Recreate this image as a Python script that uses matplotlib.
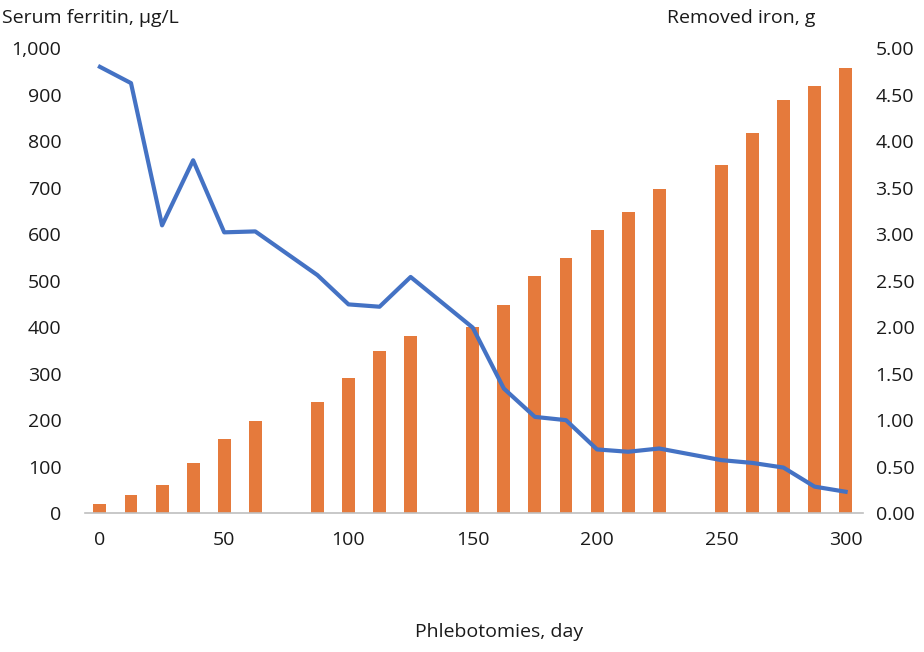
import matplotlib.pyplot as plt
from matplotlib.ticker import FuncFormatter

plt.rcParams['font.family'] = ['Open Sans', 'DejaVu Sans']

# dias de flebotomia (barras = hierro removido, linea = ferritina)
dias_barras = [0, 12.5, 25, 37.5, 50, 62.5, 87.5, 100, 112.5, 125, 150, 162.5,
               175, 187.5, 200, 212.5, 225, 250, 262.5, 275, 287.5, 300]
hierro_g = [0.10, 0.19, 0.30, 0.54, 0.80, 0.99, 1.20, 1.45, 1.74, 1.90, 2.00, 2.24,
            2.55, 2.74, 3.04, 3.24, 3.49, 3.74, 4.09, 4.44, 4.59, 4.79]

dias_linea = [0, 12.5, 25, 37.5, 50, 62.5, 87.5, 100, 112.5, 125, 150, 162.5,
              175, 187.5, 200, 212.5, 225, 250, 262.5, 275, 287.5, 300]
ferritina = [960, 925, 619, 759, 604, 606, 512, 449, 444, 508, 399, 268,
             207, 200, 137, 132, 139, 114, 108, 98, 57, 46]

naranja = '#E57A3C'
azul = '#4472C4'
texto = '#1a1a1a'
fs = 14

fig = plt.figure(figsize=(9.24, 6.52), dpi=100)
ax = fig.add_axes([0.092, 0.213, 0.842, 0.713])
ax2 = ax.twinx()

ax2.bar(dias_barras, hierro_g, width=5.2, color=naranja, zorder=1)
ax.plot(dias_linea, ferritina, color=azul, linewidth=3, zorder=3)

# la linea por encima de las barras
ax.set_zorder(ax2.get_zorder() + 1)
ax.patch.set_visible(False)

ax.set_xlim(-6, 307)
ax.set_ylim(0, 1000)
ax2.set_ylim(0, 5)
ax.set_xticks([0, 50, 100, 150, 200, 250, 300])
ax.set_yticks(range(0, 1001, 100))
ax2.set_yticks([0, 0.5, 1, 1.5, 2, 2.5, 3, 3.5, 4, 4.5, 5])
ax.yaxis.set_major_formatter(FuncFormatter(lambda v, p: f'{int(v):,}'))
ax2.yaxis.set_major_formatter(FuncFormatter(lambda v, p: f'{v:.2f}'))

for a in (ax, ax2):
    for s in ('top', 'left', 'right'):
        a.spines[s].set_visible(False)
    a.spines['bottom'].set_color('#BFBFBF')
    a.spines['bottom'].set_linewidth(1.2)
ax2.spines['bottom'].set_visible(False)

ax.tick_params(axis='y', length=0, pad=17, labelsize=fs, labelcolor=texto)
ax2.tick_params(axis='y', length=0, pad=9, labelsize=fs, labelcolor=texto)
ax.tick_params(axis='x', length=0, pad=13, labelsize=fs, labelcolor=texto)

fig.text(0.002, 0.972, 'Serum ferritin, μg/L', fontsize=fs, color=texto, va='center')
fig.text(0.722, 0.972, 'Removed iron, g', fontsize=fs, color=texto, va='center')
fig.text(0.54, 0.03, 'Phlebotomies, day', fontsize=fs, color=texto, ha='center', va='center')

fig.savefig('out.png', dpi=100)
